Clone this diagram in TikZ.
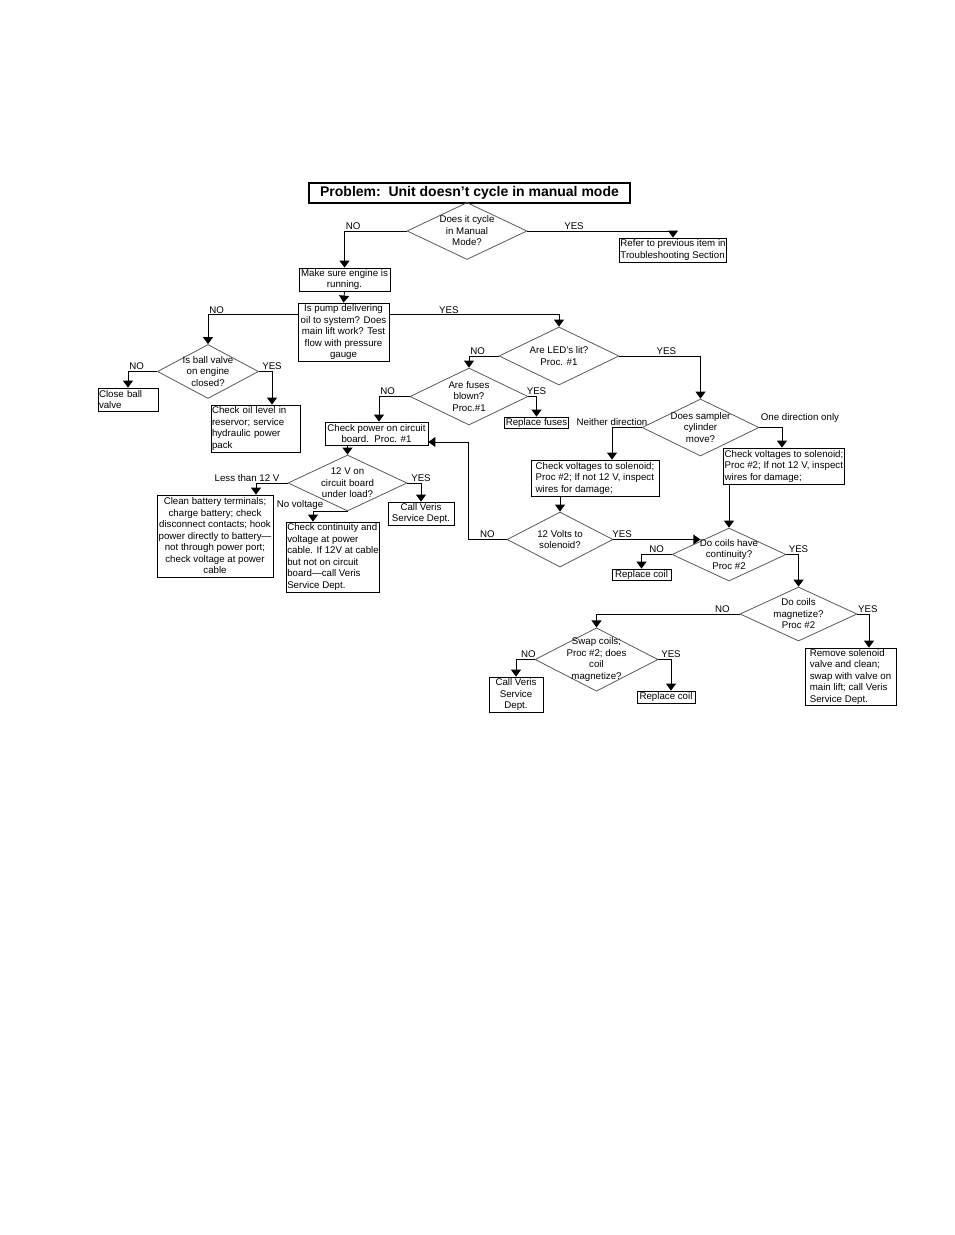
\documentclass[tikz,border=0pt]{standalone}
\usepackage{fontspec}
\setmainfont{Liberation Sans}
\usetikzlibrary{shapes.geometric}
\usetikzlibrary{arrows.meta}

\newcommand\fnt{\fontsize{9.7}{11.5}\selectfont}

\begin{document}
\begin{tikzpicture}[x=1pt,y=-1pt,
box/.style={draw, rectangle, line width=0.8pt, inner xsep=1pt, inner ysep=0pt, font=\fnt, align=left},
cbox/.style={box, align=center},
dia/.style={draw=black!65, line width=0.8pt, diamond, inner sep=-10pt, font=\fnt, align=center},% text may exceed size
arr/.style={line width=0.9pt, -{Triangle[width=10pt,length=7pt]}},
lbl/.style={font=\fnt, inner sep=1pt}
]
\useasboundingbox (0,0) rectangle (954,1235);

\node[draw, line width=1.6pt, minimum width=321pt, minimum height=20pt, inner sep=0pt,
  font=\fontsize{14}{16}\selectfont\bfseries] (title) at (469.5,193) {Problem:\ \ Unit doesn't cycle in manual mode};

% top part
\node[dia, minimum width=120pt, minimum height=57pt] (d1) at (467,231) {Does it cycle\\in Manual\\Mode?};
\node[box, minimum width=106pt, minimum height=24pt] (refer) at (673,250) {Refer to previous item in\\Troubleshooting Section};
\node[cbox, minimum width=91pt, minimum height=23pt] (b1) at (344.5,279.5) {Make sure engine is\\running.};
\node[cbox, minimum width=91pt, minimum height=58pt] (b2) at (343.5,332) {Is pump delivering\\oil to system? Does\\main lift work? Test\\flow with pressure\\gauge};

% left branch
\node[dia, minimum width=101pt, minimum height=54pt] (d2) at (208,371.5) {Is ball valve\\on engine\\closed?};
\node[box, text width=58pt, minimum height=23pt] (close) at (128,399.5) {Close ball\\valve};
\node[box, text width=87pt, minimum height=47pt] (oil) at (255.5,428.5) {Check oil level in\\reservor; service\\hydraulic power\\pack};

% LEDs and fuses
\node[dia, minimum width=120pt, minimum height=58pt] (d3) at (559,356) {Are LED's lit?\\Proc. \#1};
\node[dia, minimum width=118pt, minimum height=57pt] (d4) at (469,396.5) {Are fuses\\blown?\\Proc.\#1};
\node[box, minimum width=63pt, minimum height=11pt] (fuses) at (536.5,422.5) {Replace fuses};
\node[cbox, minimum width=103pt, minimum height=23pt] (power) at (376.5,433.5) {Check power on circuit\\board.\ \ Proc. \#1};

% circuit board voltage
\node[dia, minimum width=119pt, minimum height=56pt] (d10) at (347.5,483) {12 V on\\circuit board\\under load?};
\node[cbox, minimum width=116pt, minimum height=82pt] (clean) at (215,536) {Clean battery terminals;\\charge battery; check\\disconnect contacts; hook\\power directly to battery---\\not through power port;\\check voltage at power\\cable};
\node[box, minimum width=90pt, minimum height=70pt] (cont) at (333,557) {Check continuity and\\voltage at power\\cable. If 12V at cable\\but not on circuit\\board---call Veris\\Service Dept.};
\node[cbox, minimum width=66pt, minimum height=23pt] (call1) at (421,513.5) {Call Veris\\Service Dept.};

% sampler cylinder
\node[dia, minimum width=117pt, minimum height=57pt] (d5) at (700.5,427.5) {Does sampler\\cylinder\\move?};
\node[box, minimum width=128pt, minimum height=36pt] (voltL) at (595,478) {Check voltages to solenoid;\\Proc \#2; If not 12 V, inspect\\wires for damage;};
\node[box, minimum width=118pt, minimum height=36pt] (voltR) at (784,466) {Check voltages to solenoid;\\Proc \#2; If not 12 V, inspect\\wires for damage;};
\node[dia, minimum width=106pt, minimum height=55pt] (d6) at (560,539.5) {12 Volts to\\solenoid?};
\node[dia, minimum width=114pt, minimum height=53pt] (d7) at (729,554.5) {Do coils have\\continuity?\\Proc \#2};
\node[box, minimum width=59pt, minimum height=11pt] (coil1) at (641.5,574.5) {Replace coil};
\node[dia, minimum width=117pt, minimum height=54pt] (d8) at (798.5,614) {Do coils\\magnetize?\\Proc \#2};
\node[box, minimum width=91pt, minimum height=57pt] (remove) at (850.5,676.5) {Remove solenoid\\valve and clean;\\swap with valve on\\main lift; call Veris\\Service Dept.};
\node[dia, minimum width=123pt, minimum height=61pt] (d9) at (596.5,659.5) {Swap coils;\\Proc \#2; does\\coil\\magnetize?};
\node[cbox, minimum width=54pt, minimum height=35pt] (call2) at (516,694.5) {Call Veris\\Service\\Dept.};
\node[box, minimum width=58pt, minimum height=12pt] (coil2) at (666,697) {Replace coil};

\coordinate (c6) at (468,442);

% connectors
\draw[arr] (d1.west) -| node[lbl, above right, pos=.5] {NO} (b1.north);
\draw[arr] (d1.east) -| node[lbl, above, pos=.16] {YES} (refer.north);
\draw[arr] (b1.south) -- (b2.north);
\draw[arr] ([yshift=-12pt]b2.north west) -| node[lbl, above right, pos=.5] {NO} (d2.north);
\draw[arr] ([yshift=-12pt]b2.north east) -| node[lbl, above, pos=.175] {YES} (d3.north);
\draw[arr] (d2.west) -| node[lbl, above right, pos=.5] {NO} (close.north);
\draw[arr] (d2.east) -| node[lbl, above, pos=.5] {YES} ([xshift=16.5pt]oil.north);
\draw[arr] (d3.west) -| node[lbl, above right, pos=.5] {NO} (d4.north);
\draw[arr] (d3.east) -| node[lbl, above, pos=.29] {YES} (d5.north);
\draw[arr] (d4.west) -| node[lbl, above right, pos=.5] {NO} ([xshift=2.5pt]power.north);
\draw[arr] (d4.east) -| node[lbl, above, pos=.5] {YES} (fuses.north);
\draw[arr] (power.south -| d10.north) -- (d10.north);
\draw[arr] (d10.west) -| node[lbl, above, pos=.5, xshift=-9pt] {Less than 12 V} ([xshift=41pt]clean.north);
\draw[arr] (d10.south) -| node[lbl, above, pos=.5, xshift=-13pt] {No voltage} ([xshift=-20pt]cont.north);
\draw[arr] (d10.east) -| node[lbl, above, pos=.5] {YES} (call1.north);
\draw[arr] (d5.west) -| node[lbl, above, pos=.5] {Neither direction} ([xshift=17pt]voltL.north);
\draw[arr] (d5.east) -| node[lbl, above right, pos=0, yshift=4pt] {One direction only} ([xshift=-2pt]voltR.north);
\draw[arr] (voltL.south -| d6.north) -- (d6.north);
\draw[arr] (voltR.south west -| d7.north) -- (d7.north);
\draw[arr] (d6.west) -| node[lbl, above, pos=.25] {NO} (c6) -- (c6 -| power.east);
\draw[arr] (d6.east) -- node[lbl, above, pos=.1] {YES} (d6.east -| d7.north west);
\draw[arr] (d7.west) -| node[lbl, above, pos=.25] {NO} (coil1.north);
\draw[arr] (d7.east) -| node[lbl, above, pos=.5] {YES} (d8.north);
\draw[arr] (d8.west) -| node[lbl, above, pos=.06] {NO} (d9.north);
\draw[arr] (d8.east) -| node[lbl, above, pos=.45] {YES} ([xshift=18.5pt]remove.north);
\draw[arr] (d9.west) -| node[lbl, above, pos=.17] {NO} (call2.north);
\draw[arr] (d9.east) -| node[lbl, above, pos=.5] {YES} ([xshift=5pt]coil2.north);
\end{tikzpicture}
\end{document}
